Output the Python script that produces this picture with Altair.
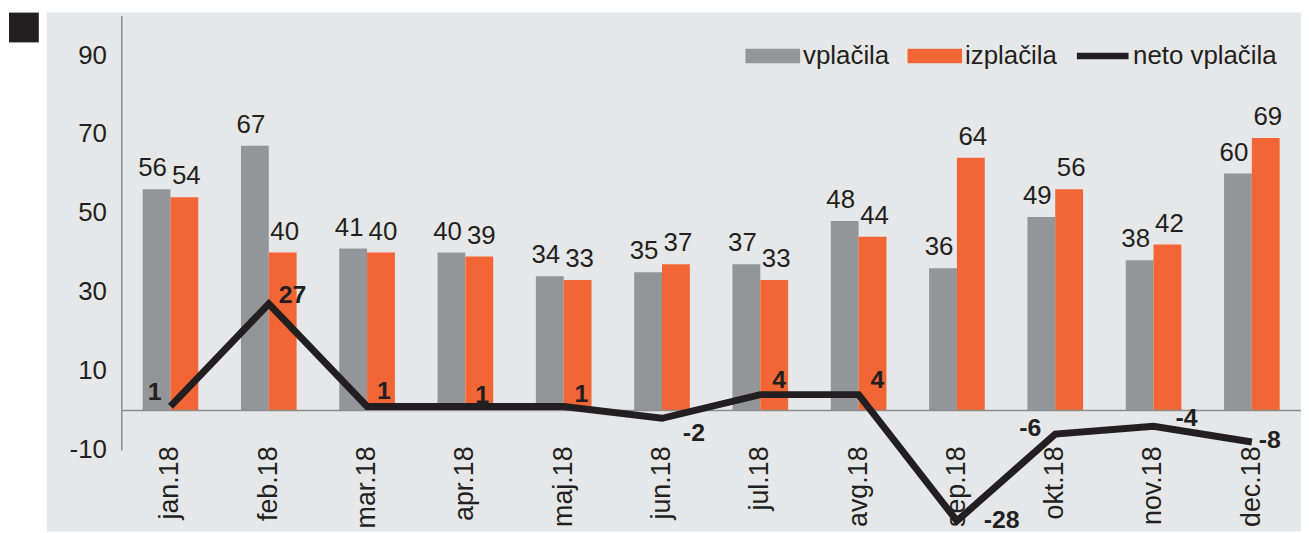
import altair as alt
import pandas as pd

# ---- data ----
months = ["jan.18", "feb.18", "mar.18", "apr.18", "maj.18", "jun.18",
          "jul.18", "avg.18", "sep.18", "okt.18", "nov.18", "dec.18"]
vplacila = [56, 67, 41, 40, 34, 35, 37, 48, 36, 49, 38, 60]
izplacila = [54, 40, 40, 39, 33, 37, 33, 44, 64, 56, 42, 69]
neto = [1, 27, 1, 1, 1, -2, 4, 4, -28, -6, -4, -8]
series = ["vplačila", "izplačila", "neto vplačila"]
y_ticks = [-10, 10, 30, 50, 70, 90]

# ---- style ----
W, H = 1187, 437
PAD = {"left": 114, "top": 6, "right": 0, "bottom": 82}
FONT = "Liberation Sans"
TXT = "#231f20"
GRAY = "#939598"
ORANGE = "#f26636"
BLACK = "#231f20"
PANEL = "#e6e7e8"
AXIS = "#8c8c8c"
P_BAR = "M-1,-0.264H1V0.264H-1Z"
P_LINE = "M-0.945,-0.118H0.945V0.118H-0.945Z"

# label placement for net values: (align, dx, dy)
net_pos = {
    "jan.18": ("right", -9, -7),
    "feb.18": ("left", 10, -1),
    "mar.18": ("left", 10, -8),
    "apr.18": ("left", 10, -3),
    "maj.18": ("left", 11, -4),
    "jun.18": ("left", 21, 23),
    "jul.18": ("left", 12, -7),
    "avg.18": ("left", 12, -7),
    "sep.18": ("left", 27, 7),
    "okt.18": ("right", -14, 2),
    "nov.18": ("left", 22, 0),
    "dec.18": ("left", 7, 6),
}

bars_df = pd.DataFrame({
    "month": months * 2,
    "serija": [series[0]] * len(months) + [series[1]] * len(months),
    "value": vplacila + izplacila,
})
net_df = pd.DataFrame({"month": months, "neto": neto})
one = alt.Data(values=[{"a": 1}])

x_enc = alt.X(
    "month:N", sort=months,
    scale=alt.Scale(domain=months, paddingInner=0.434, paddingOuter=0.217),
    axis=alt.Axis(title=None, labelAngle=270, domain=False, ticks=False,
                  labelPadding=-4, labelFontSize=27, labelFont=FONT,
                  labelColor=TXT, grid=False, zindex=1),
)
xo_enc = alt.XOffset("serija:N", sort=series[:2],
                     scale=alt.Scale(domain=series[:2], paddingInner=0, paddingOuter=0))
y_scale = alt.Scale(domain=[-10, 100], nice=False, zero=False)
y_axis = alt.Axis(title=None, values=y_ticks, ticks=False, grid=False,
                  domainColor=AXIS, domainWidth=1.5, labelFontSize=26,
                  labelFont=FONT, labelColor=TXT, labelPadding=15, zindex=1,
                  labelExpr="'' + datum.value")

legend = alt.Legend(title=None, orient="none", legendX=628, legendY=13,
                    direction="horizontal", symbolSize=3025,
                    labelFontSize=26, labelFont=FONT, labelColor=TXT,
                    labelOffset=3, columnPadding=18, symbolStrokeWidth=0,
                    symbolOpacity=1)
color_enc = alt.Color("serija:N", scale=alt.Scale(domain=series, range=[GRAY, ORANGE, BLACK]),
                      legend=legend)
shape_enc = alt.Shape("serija:N", scale=alt.Scale(domain=series, range=[P_BAR, P_BAR, P_LINE]),
                      legend=legend)

panel = alt.Chart(one).mark_rect(color=PANEL).encode(
    x=alt.value(-75), x2=alt.value(W), y=alt.value(-3), y2=alt.value(H + PAD["bottom"]))
square = alt.Chart(one).mark_rect(color=BLACK).encode(
    x=alt.value(-113), x2=alt.value(-83), y=alt.value(-3), y2=alt.value(27))

bars = alt.Chart(bars_df).mark_bar().encode(
    x=x_enc, xOffset=xo_enc,
    y=alt.Y("value:Q", scale=y_scale, axis=y_axis),
    color=color_enc,
)

legend_layer = alt.Chart(bars_df).transform_filter("false").mark_point(
    filled=True, opacity=0).encode(color=color_enc, shape=shape_enc)

zero_rule = alt.Chart(one).mark_rule(color=AXIS, strokeWidth=1.5).encode(y=alt.datum(0))

bar_labels = []
for s, dx in [(series[0], -4), (series[1], 2)]:
    bar_labels.append(
        alt.Chart(bars_df).transform_filter(alt.datum.serija == s).mark_text(
            dx=dx, dy=-13, baseline="alphabetic", fontSize=26, font=FONT, color=TXT
        ).encode(x=x_enc, xOffset=xo_enc, y=alt.Y("value:Q", scale=y_scale, axis=y_axis),
                 text=alt.Text("value:Q"))
    )

line = alt.Chart(net_df).mark_line(
    color=BLACK, strokeWidth=7, strokeJoin="miter", strokeCap="butt"
).encode(x=x_enc, y=alt.Y("neto:Q", scale=y_scale, axis=y_axis))

net_labels = []
for m, (al, dx, dy) in net_pos.items():
    net_labels.append(
        alt.Chart(net_df).transform_filter(alt.datum.month == m)
        .transform_calculate(lbl="'' + datum.neto")
        .mark_text(
            align=al, dx=dx, dy=dy, baseline="alphabetic", fontSize=25,
            fontWeight="bold", font=FONT, color=TXT
        ).encode(x=x_enc, y=alt.Y("neto:Q", scale=y_scale, axis=y_axis),
                 text=alt.Text("lbl:N"))
    )

chart = alt.layer(
    panel, square, bars, zero_rule, *bar_labels, line, *net_labels, legend_layer
).properties(
    width=W, height=H,
    autosize=alt.AutoSizeParams(type="none"),
    padding=PAD,
    background="white",
).configure_view(stroke=None)

chart.save("out.html", embed_options={"renderer": "svg", "actions": False})
